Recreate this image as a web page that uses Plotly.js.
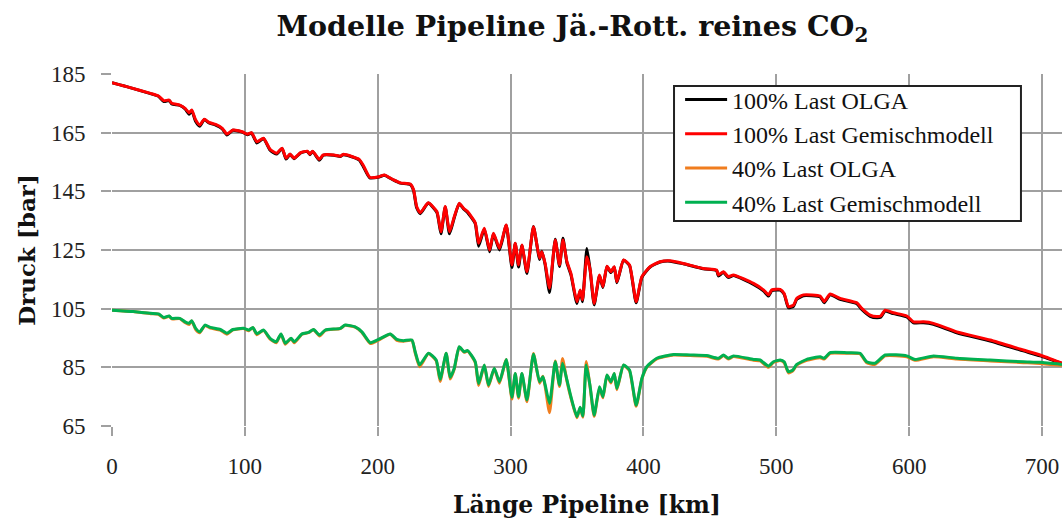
<!DOCTYPE html>
<html>
<head>
<meta charset="utf-8">
<script src="https://cdn.plot.ly/plotly-3.0.1.min.js"></script>
<style>html,body{margin:0;padding:0;background:#fff;}#chart{width:1062px;height:522px;}</style>
</head>
<body>
<div id="chart"></div>
<script>
// ---- Data ----
const kmHigh = [0,6,11,29,35,39,43,45,51,55,58,60,63,66,69.5,73,78,83,86.5,91,98,102,105,109,114,119,124,128,131,134,137,142,147,149,151,156,159,167,172,174,181,186,189,194,201,205,212,217,224.5,227,229.3,232,238,244.5,247.6,250.8,254,257.6,261.3,264.6,267.6,273.4,275.9,280.2,284.2,287.1,291.6,296.7,301,303.5,306,308.5,312.3,317.2,321.8,323.5,326,329.3,333.6,336.8,339.4,342.4,345.4,349.9,352.4,354.1,357.4,359.9,362.9,366.9,369.5,372.5,375.5,378,380,385,389.5,394.5,398.8,405,412.5,420,430,445,455,456.4,460.2,463.9,467.7,482.8,490.3,494.1,496.6,502.9,505.9,509.1,512.9,515.4,520.4,533,536,540.5,548,560.6,564.3,570.6,575.6,578.6,581.9,588.1,598.2,603.2,610.7,618.2,635.8,660.9,685.9,698.5,715];
const druck100Gemisch = [182.0,181.3,180.7,178.4,177.5,175.9,176.1,175.0,174.4,173.3,171.8,172.7,169.3,167.6,169.6,168.5,167.8,166.5,164.5,165.9,165.3,164.5,165.0,161.9,163.1,159.3,158.0,159.7,156.3,157.7,156.3,158.2,158.7,157.7,158.7,155.9,157.4,157.4,157.0,157.6,156.8,155.9,154.0,149.8,150.0,150.6,148.9,147.9,147.5,145.5,139.8,137.7,141.1,138.1,131.2,139.8,131.2,136.3,140.9,139.2,138.1,134.3,127.3,132.4,125.0,130.7,125.6,133.5,119.9,127.3,119.9,126.7,117.6,132.9,122.2,124.4,120.4,112.0,128.4,119.9,128.4,121.0,117.0,107.4,111.4,108.0,122.7,118.2,106.8,116.5,112.5,119.5,117.6,119.3,114.2,121.6,119.9,107.4,115.9,119.3,121.0,121.3,120.4,118.7,118.2,116.5,117.6,115.9,116.5,113.6,111.4,109.7,111.4,111.6,110.2,105.7,106.2,108.5,109.7,109.3,107.4,110.0,108.5,107.0,105.1,102.8,102.3,102.5,104.5,103.6,102.5,100.5,100.5,100.0,97.1,94.3,90.9,89.2,86.4];
const druck100Olga = [182.0,181.3,180.7,178.3,177.4,175.6,176.0,174.8,174.3,173.1,171.3,172.5,168.8,167.2,169.5,168.3,167.6,166.3,164.2,165.8,165.2,164.3,164.9,161.5,163.0,159.0,157.7,159.6,156.0,157.6,156.1,158.1,158.6,157.5,158.6,155.6,157.3,157.3,156.9,157.5,156.7,155.7,153.6,149.6,149.9,150.5,148.8,147.8,147.3,145.2,139.4,137.4,141.0,137.8,130.5,139.7,130.5,136.0,140.8,139.0,137.8,134.0,126.3,132.2,124.4,130.5,125.0,133.4,119.0,127.2,119.2,126.5,117.0,133.0,121.8,124.6,120.0,110.5,128.7,119.4,129.0,120.6,116.6,106.8,111.2,107.4,125.5,118.0,106.3,116.2,112.2,119.4,117.3,119.2,113.8,121.5,119.7,107.0,115.7,119.2,120.9,121.2,120.3,118.6,118.0,116.1,117.4,115.6,116.3,113.3,111.1,109.3,111.1,111.3,109.9,105.3,105.8,108.2,109.4,109.0,107.0,109.7,108.2,106.7,104.7,102.4,101.9,102.1,104.2,103.3,102.2,100.2,100.2,99.7,96.8,94.0,90.6,88.9,86.3];
const kmLow = [0,16,29,35,39,43,45,51,55,58,60,63,66,70,74,81.5,86.5,91,99,103,106,109,114,119,123.6,127.2,130.4,134.7,137.2,143,147.9,151.7,156.2,160.5,171.8,175.5,183,188.1,194.4,200.6,209.4,214.4,219.4,225.7,228.2,231.5,238.2,244,247,251.5,254.5,257.6,261.3,265.1,267.6,273.4,275.9,280.2,283.4,287.7,291.6,296.7,301,303.5,306,308.5,312.3,317.2,321.8,324.3,326,329.3,333.6,336.8,339.1,342.4,345.4,349.9,352.4,354.4,356.9,359.9,362.9,366.9,369.5,372.5,375.5,378,380,385,389.5,394.5,398.8,402.5,410,422.6,435.1,447.6,456.4,460.2,463.9,467.7,482.8,487.8,494.1,497.8,502.9,505.9,509.1,512.4,515.4,522.9,533,536,540.5,553,563,568,574.3,581.9,598.2,604.4,618.2,635.8,660.9,685.9,698.5,715];
const druck40Gemisch = [104.5,104.0,103.4,103.2,102.0,102.5,101.7,101.7,100.5,100.0,100.9,98.3,97.1,99.4,98.6,97.9,96.6,97.9,98.3,97.7,98.6,96.4,97.7,94.9,93.7,96.4,93.2,94.9,93.7,96.4,96.9,97.9,96.0,97.7,98.3,99.4,98.8,97.1,93.4,94.5,96.4,94.5,94.1,94.3,90.3,85.8,89.8,87.5,80.9,89.8,81.6,84.7,92.0,90.3,90.7,86.9,79.5,85.8,79.0,84.7,80.1,87.7,74.8,82.9,75.0,82.9,73.9,89.5,80.1,81.8,79.0,72.7,86.9,79.0,86.4,80.7,75.0,68.2,71.4,68.4,85.8,78.4,68.7,78.4,75.0,82.4,80.1,82.9,77.8,85.8,84.1,72.1,81.2,85.2,88.1,89.4,89.2,89.0,88.1,89.2,88.1,88.9,87.7,87.5,85.4,86.9,87.5,86.9,83.5,84.1,86.0,87.7,88.6,88.1,90.0,90.0,89.8,86.9,86.4,89.2,88.9,87.7,88.9,88.1,87.5,86.9,86.7,86.0];
const druck40Olga = [104.5,104.0,103.3,103.1,101.8,102.4,101.5,101.6,100.3,99.6,100.8,97.9,96.8,99.3,98.4,97.7,96.3,97.8,98.2,97.5,98.5,96.1,97.6,94.6,93.4,96.3,92.9,94.8,93.4,96.3,96.8,97.8,95.7,97.6,98.2,99.3,98.7,96.9,93.1,94.3,96.3,94.2,93.9,94.2,89.9,85.2,89.7,87.2,80.2,89.7,81.0,84.4,91.9,90.1,90.6,86.6,78.8,85.7,78.5,84.6,79.6,87.6,74.2,82.8,74.5,82.8,73.3,89.7,79.6,82.0,78.5,69.5,87.2,78.5,88.0,80.3,74.6,67.8,71.2,68.0,87.0,78.0,68.3,78.1,74.6,82.3,79.7,82.8,77.4,85.7,83.8,71.7,81.0,85.0,87.9,89.2,89.0,88.8,87.8,89.0,87.8,88.7,87.4,87.2,85.0,86.7,87.3,86.6,83.1,83.8,85.8,87.4,88.3,87.8,89.8,89.8,89.6,86.6,86.0,88.9,88.6,87.4,88.6,87.8,87.2,86.6,86.3,85.6];
const yTicks = [65,85,105,125,145,165,185];
const xTicks = [0,100,200,300,400,500,600,700];
const seriesNames = ['100% Last OLGA','100% Last Gemischmodell','40% Last OLGA','40% Last Gemischmodell'];
const seriesColors = ['#000000','#ff0000','#f07d1e','#00b050'];

const serif = 'Liberation Serif, Times New Roman, serif';
const serifBold = 'DejaVu Serif, serif';

function trace(x, y, i) {
  return {x: x, y: y, name: seriesNames[i], type: 'scatter', mode: 'lines',
    line: {color: seriesColors[i], width: 3, shape: 'spline', smoothing: 0.5}};
}
const data = [
  trace(kmHigh, druck100Olga, 0),
  trace(kmHigh, druck100Gemisch, 1),
  trace(kmLow, druck40Olga, 2),
  trace(kmLow, druck40Gemisch, 3)
];

const layout = {
  width: 1062, height: 522,
  margin: {l: 112, r: 0, t: 74, b: 96},
  paper_bgcolor: '#ffffff', plot_bgcolor: '#ffffff',
  showlegend: true,
  title: {text: '<b>Modelle Pipeline Jä.-Rott. reines CO<sub>2</sub></b>',
    font: {family: serifBold, size: 28.5, color: '#111'},
    x: 0.539, xref: 'container', xanchor: 'center', y: 0.95, yref: 'container', yanchor: 'middle'},
  xaxis: {range: [0, 715], tickvals: xTicks, ticktext: xTicks.map(String),
    showgrid: true, gridcolor: '#a0a0a0', gridwidth: 2, zeroline: false, showline: false,
    ticks: 'outside', ticklen: 9, tickwidth: 2, tickcolor: '#a0a0a0', ticklabelstandoff: 10,
    tickfont: {family: serif, size: 23, color: '#222'},
    title: {text: '<b>Länge Pipeline [km]</b>', font: {family: serifBold, size: 23.5, color: '#111'}, standoff: 18}},
  yaxis: {range: [65, 185], tickvals: yTicks, ticktext: yTicks.map(String),
    showgrid: true, gridcolor: '#a0a0a0', gridwidth: 2, zeroline: false, showline: false,
    ticks: 'outside', ticklen: 10, tickwidth: 2, tickcolor: '#a0a0a0', ticklabelstandoff: 11,
    tickfont: {family: serif, size: 23, color: '#222'},
    title: {text: '<b>Druck [bar]</b>', font: {family: serifBold, size: 23, color: '#111'}, standoff: 8}},
  shapes: [{type: 'rect', xref: 'paper', yref: 'paper', layer: 'above',
    x0: 0.5916, x1: 0.9568, y0: 0.5824, y1: 0.9659,
    fillcolor: '#ffffff', line: {color: '#222', width: 2}}],
  legend: {x: 0.598, y: 0.99, xanchor: 'left', yanchor: 'top', xref: 'paper', yref: 'paper',
    bgcolor: 'rgba(0,0,0,0)', borderwidth: 0, itemwidth: 42,
    font: {family: serif, size: 24, color: '#111'}, tracegroupgap: 0}
};

Plotly.newPlot('chart', data, layout, {displayModeBar: false, staticPlot: true});
</script>
</body>
</html>
